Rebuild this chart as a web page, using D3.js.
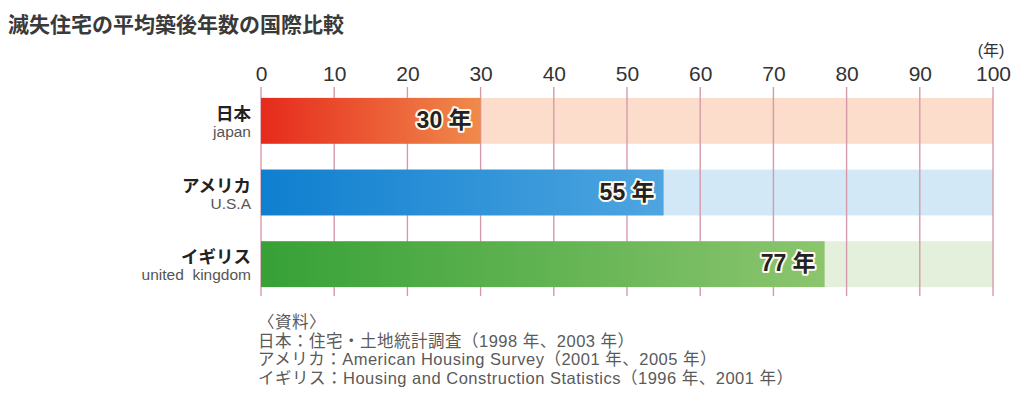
<!DOCTYPE html>
<html>
<head>
<meta charset="utf-8">
<script src="https://cdn.jsdelivr.net/npm/d3@7"></script>
<style>
  body { margin: 0; background: #fff; }
  svg { display: block; font-family: "Liberation Sans", "Noto Sans CJK JP", sans-serif; }
</style>
</head>
<body>
<div id="chart"></div>
<script>
'use strict';

// Data
const countriesJa = ['日本', 'アメリカ', 'イギリス'];
const countriesEn = ['japan', 'U.S.A', 'united  kingdom'];
const years = [30, 55, 77];
const ticks = [0, 10, 20, 30, 40, 50, 60, 70, 80, 90, 100];
const sources = [
    '〈資料〉',
    '日本：住宅・土地統計調査（1998 年、2003 年）',
    'アメリカ：American Housing Survey（2001 年、2005 年）',
    'イギリス：Housing and Construction Statistics（1996 年、2001 年）'
];

// colours per bar: [gradient start, gradient end, pale track]
const palette = [
    ['#e62a1c', '#f08a4c', '#fcdccb'],
    ['#0f7fcf', '#4ea5e0', '#d3e8f7'],
    ['#36a136', '#8cc56e', '#e4f0dc']
];

const width = 1024, height = 398;
const svg = d3.select('#chart').append('svg')
    .attr('width', width).attr('height', height);

// Scales
let x = d3.scaleLinear().domain([0, 100]).range([261, 993]);
let y = d3.scaleBand().domain(countriesJa).range([85, 300]).paddingInner(0.36).paddingOuter(0.18);

// Gradients
let defs = svg.append('defs');
palette.forEach((p, i) => {
    let g = defs.append('linearGradient').attr('id', 'grad' + i)
        .attr('x1', '0%').attr('x2', '100%');
    g.append('stop').attr('offset', '0%').attr('stop-color', p[0]);
    g.append('stop').attr('offset', '100%').attr('stop-color', p[1]);
});

// Title
svg.append('text')
    .attr('x', 8).attr('y', 32)
    .attr('font-size', 21).attr('font-weight', 'bold')
    .attr('font-family', '"Noto Sans CJK JP", sans-serif')
    .attr('fill', '#3a3a3a')
    .text('滅失住宅の平均築後年数の国際比較');

// Pale tracks
svg.selectAll('rect.track')
    .data(countriesJa)
    .join('rect')
    .classed('track', true)
    .attr('x', x(0)).attr('width', x(100) - x(0))
    .attr('y', d => y(d)).attr('height', y.bandwidth())
    .attr('fill', (d, i) => palette[i][2]);

// Gridlines
svg.selectAll('line.grid')
    .data(ticks)
    .join('line')
    .classed('grid', true)
    .attr('x1', d => x(d)).attr('x2', d => x(d))
    .attr('y1', 87).attr('y2', 296)
    .attr('stroke', '#d59aaa').attr('stroke-width', 1.4);

// Bars
svg.selectAll('rect.bar')
    .data(years)
    .join('rect')
    .classed('bar', true)
    .attr('x', x(0))
    .attr('y', (d, i) => y(countriesJa[i]))
    .attr('width', d => x(d) - x(0))
    .attr('height', y.bandwidth())
    .attr('fill', (d, i) => `url(#grad${i})`);

// Axis (top)
let axis = svg.append('g')
    .attr('transform', 'translate(0,82)')
    .call(d3.axisTop(x).tickValues(ticks).tickSize(0).tickPadding(1));
axis.select('.domain').remove();
axis.selectAll('text')
    .attr('font-size', 21).attr('fill', '#333')
    .attr('font-family', '"Liberation Sans", sans-serif');

svg.append('text')
    .attr('x', 991).attr('y', 56)
    .attr('text-anchor', 'middle')
    .attr('font-size', 16).attr('fill', '#333')
    .text('(年)');

// Category labels
svg.selectAll('text.ja')
    .data(countriesJa)
    .join('text')
    .classed('ja', true)
    .attr('x', 251)
    .attr('y', d => y(d) + y.bandwidth() / 2 - 1)
    .attr('text-anchor', 'end')
    .attr('font-size', 17.5).attr('font-weight', 'bold')
    .attr('font-family', '"Noto Sans CJK JP", sans-serif')
    .attr('fill', '#222')
    .text(d => d);

svg.selectAll('text.en')
    .data(countriesEn)
    .join('text')
    .classed('en', true)
    .attr('x', 251)
    .attr('y', (d, i) => y(countriesJa[i]) + y.bandwidth() / 2 + 16)
    .attr('text-anchor', 'end')
    .attr('font-size', 15.5)
    .attr('fill', '#555')
    .style('white-space', 'pre')
    .text(d => d);

// Value labels with white halo
svg.selectAll('text.value')
    .data(years)
    .join('text')
    .classed('value', true)
    .attr('x', d => x(d) - 9)
    .attr('y', (d, i) => y(countriesJa[i]) + y.bandwidth() / 2 + 7)
    .attr('text-anchor', 'end')
    .attr('font-size', 23).attr('font-weight', 'bold')
    .attr('font-family', '"Liberation Sans", "Noto Sans CJK JP", sans-serif')
    .attr('fill', '#222')
    .attr('stroke', '#fff8ec').attr('stroke-width', 4)
    .attr('stroke-linejoin', 'round')
    .attr('paint-order', 'stroke')
    .text(d => d + ' 年');

// Sources
svg.selectAll('text.src')
    .data(sources)
    .join('text')
    .classed('src', true)
    .attr('x', 258)
    .attr('y', (d, i) => 328 + i * 18.7)
    .attr('font-size', 16.5)
    .attr('letter-spacing', 0.5)
    .attr('fill', '#5a5a5a')
    .text(d => d);
</script>
</body>
</html>
